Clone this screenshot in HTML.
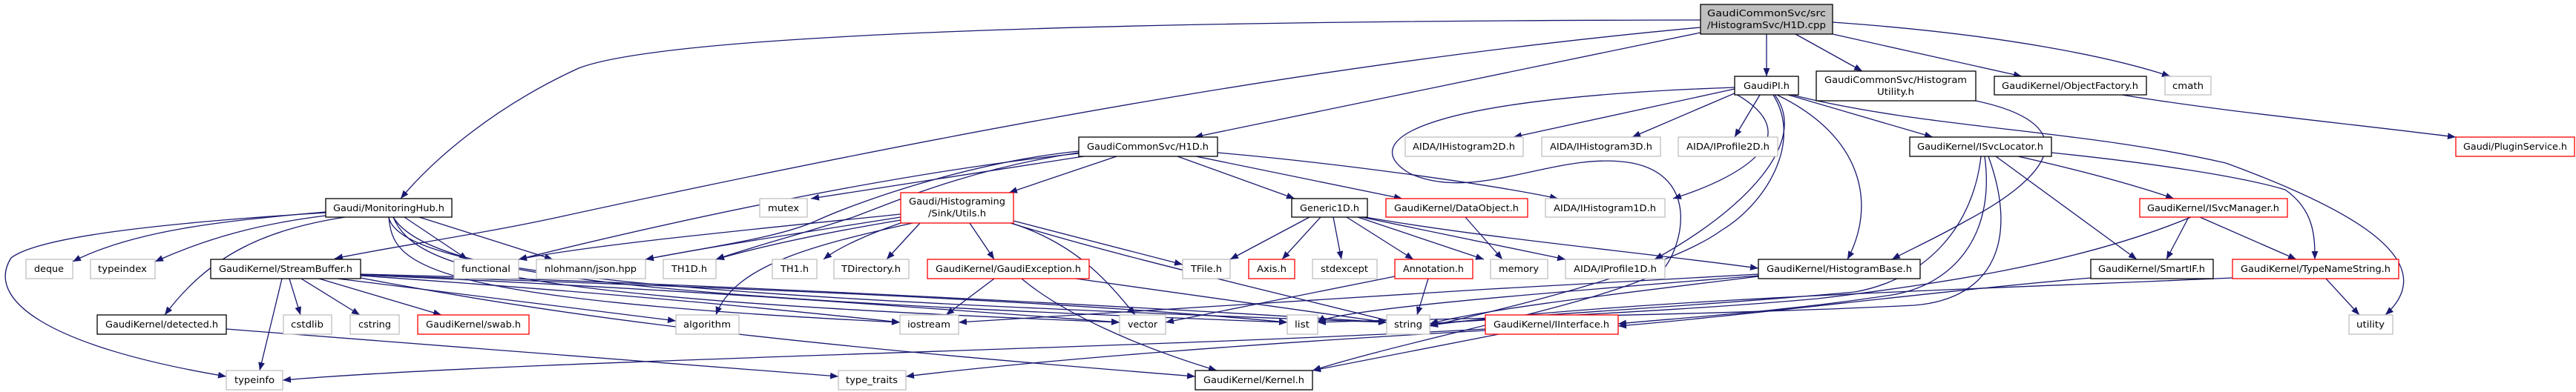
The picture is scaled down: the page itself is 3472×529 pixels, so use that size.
<!DOCTYPE html>
<html><head><meta charset="utf-8"><style>
html,body{margin:0;padding:0;background:#fff;overflow:hidden;}
svg{display:block;}
text{font-family:"DejaVu Sans","Liberation Sans",sans-serif;font-size:12px;fill:#000;}
.e{fill:none;stroke:#191970;stroke-width:1.3;}
.b{fill:#fff;stroke:#000;stroke-width:1.3;}
.r{fill:#fff;stroke:#ff0000;stroke-width:1.3;}
.g{fill:#fff;stroke:#bfbfbf;stroke-width:1.3;}
</style></head><body>
<svg width="3472" height="529" viewBox="0 0 3472 529" xmlns="http://www.w3.org/2000/svg">
<defs><marker id="m" viewBox="0 0 10 10" refX="10" refY="5" markerWidth="11" markerHeight="11" orient="auto" markerUnits="userSpaceOnUse"><path d="M0,1 L10,5 L0,9 z" fill="#191970"/></marker></defs>
<g marker-end="url(#m)">
<path class="e" d="M2292,27 C1500,28 900,46 780,92 C660,147 580,220 540,268"/>
<path class="e" d="M2292,37 C1800,82 1300,174 762,291 C650,316 520,334 451,349"/>
<path class="e" d="M2292,44 L1610,185"/>
<path class="e" d="M2381,46 L2381,103"/>
<path class="e" d="M2420,46 L2510,96"/>
<path class="e" d="M2470,46 L2725,103"/>
<path class="e" d="M2470,30 C2700,46 2850,78 2925,103"/>
<path class="e" d="M2338,120 L2040,185"/>
<path class="e" d="M2340,125 L2200,185"/>
<path class="e" d="M2372,128 L2338,185"/>
<path class="e" d="M2338,118 C1900,133 1830,192 1900,234 C1990,275 2100,202 2200,220 C2290,238 2270,330 2240,366 C2150,412 1900,458 1769,500"/>
<path class="e" d="M2338,126 C2440,183 2350,238 2255,268"/>
<path class="e" d="M2392,128 C2440,192 2350,284 2230,350"/>
<path class="e" d="M2395,128 C2510,183 2530,275 2490,350"/>
<path class="e" d="M2410,128 L2605,185"/>
<path class="e" d="M2415,128 C2600,174 2800,174 3000,220 C3150,275 3300,348 3215,425"/>
<path class="e" d="M2390,128 C2430,192 2380,275 2320,311 C2250,362 2050,412 1927,440"/>
<path class="e" d="M1480,208 L1093,268"/>
<path class="e" d="M1505,211 L1360,260"/>
<path class="e" d="M1587,211 L1745,268"/>
<path class="e" d="M1612,211 L1890,268"/>
<path class="e" d="M1641,206 C1800,220 2000,247 2100,268"/>
<path class="e" d="M1454,204 C1300,220 1150,275 1100,298 C1050,321 950,334 870,350"/>
<path class="e" d="M1454,206 C1300,229 1200,275 1150,293 C1080,316 1010,334 965,350"/>
<path class="e" d="M1454,207 C1200,234 900,300 699,350"/>
<path class="e" d="M1214,289 C1000,311 800,330 699,350"/>
<path class="e" d="M1214,293 C1100,311 950,334 870,350"/>
<path class="e" d="M1214,297 C1100,316 1020,334 965,350"/>
<path class="e" d="M1214,301 C1170,316 1130,334 1110,350"/>
<path class="e" d="M1240,301 L1195,350"/>
<path class="e" d="M1307,301 L1340,350"/>
<path class="e" d="M1366,298 L1594,357"/>
<path class="e" d="M1366,302 C1450,330 1490,376 1530,425"/>
<path class="e" d="M1362,301 C1500,344 1700,390 1880,435"/>
<path class="e" d="M1230,301 C1100,330 990,357 965,425"/>
<path class="e" d="M1765,293 L1658,350"/>
<path class="e" d="M1780,293 L1728,350"/>
<path class="e" d="M1797,293 L1808,350"/>
<path class="e" d="M1815,293 L1905,350"/>
<path class="e" d="M1830,293 L2000,350"/>
<path class="e" d="M1835,293 L2110,350"/>
<path class="e" d="M1840,293 C2000,321 2200,339 2370,362"/>
<path class="e" d="M1975,293 L2025,350"/>
<path class="e" d="M1340,376 L1275,425"/>
<path class="e" d="M1377,376 C1430,421 1530,467 1640,500"/>
<path class="e" d="M1450,376 L1869,435"/>
<path class="e" d="M1925,376 L1910,425"/>
<path class="e" d="M1880,373 L1571,435"/>
<path class="e" d="M380,376 L350,500"/>
<path class="e" d="M390,376 L405,425"/>
<path class="e" d="M406,376 L485,425"/>
<path class="e" d="M430,376 L595,425"/>
<path class="e" d="M455,376 L911,433"/>
<path class="e" d="M486,372 C800,394 1000,412 1213,435"/>
<path class="e" d="M486,371 C900,389 1200,412 1509,435"/>
<path class="e" d="M486,371 C900,385 1400,403 1735,435"/>
<path class="e" d="M486,370 C900,380 1500,412 1869,435"/>
<path class="e" d="M486,375 C800,435 1100,467 1611,508"/>
<path class="e" d="M439,286 C300,298 180,311 98,353"/>
<path class="e" d="M439,291 C350,302 280,321 209,353"/>
<path class="e" d="M439,287 C200,302 50,321 15,348 C-20,403 60,467 305,508"/>
<path class="e" d="M465,293 C350,311 280,348 222,425"/>
<path class="e" d="M545,293 L630,350"/>
<path class="e" d="M565,293 L745,350"/>
<path class="e" d="M524,293 C530,357 560,403 1213,435"/>
<path class="e" d="M530,293 C560,366 700,403 1509,435"/>
<path class="e" d="M530,293 C580,376 900,403 1735,435"/>
<path class="e" d="M524,293 C540,376 1000,403 1869,435"/>
<path class="e" d="M305,444 L1130,508"/>
<path class="e" d="M2002,444 C1500,472 700,486 381,513"/>
<path class="e" d="M2002,446 C1700,463 1400,486 1221,508"/>
<path class="e" d="M2020,451 L1769,500"/>
<path class="e" d="M2370,370 C2000,389 1500,421 1292,435"/>
<path class="e" d="M2370,372 C2100,394 1800,417 1776,435"/>
<path class="e" d="M2370,373 C2200,394 2000,417 1927,437"/>
<path class="e" d="M2670,211 C2660,302 2600,376 2500,394 C2300,412 2050,426 1927,437"/>
<path class="e" d="M2675,211 C2690,321 2630,385 2550,398 C2400,421 2250,430 2181,437"/>
<path class="e" d="M2680,211 C2720,321 2690,403 2580,412 C2300,426 1900,430 1776,435"/>
<path class="e" d="M2690,211 L2880,350"/>
<path class="e" d="M2720,211 C2800,229 2870,247 2930,268"/>
<path class="e" d="M2765,206 C2900,220 3020,238 3080,256 C3120,284 3120,321 3120,350"/>
<path class="e" d="M2950,293 L2920,350"/>
<path class="e" d="M2965,293 L3095,350"/>
<path class="e" d="M2953,293 C2800,357 2600,385 2450,403 C2250,421 2000,430 1927,437"/>
<path class="e" d="M2818,375 C2600,394 2350,426 2181,440"/>
<path class="e" d="M3009,375 C2700,389 2200,403 1927,439"/>
<path class="e" d="M3135,376 L3180,425"/>
<path class="e" d="M2663,136 C2800,165 2780,229 2650,298 C2610,321 2570,339 2550,350"/>
<path class="e" d="M2860,128 C3000,151 3150,165 3310,185"/>
</g>
<rect x="2292" y="6" width="178" height="40" fill="#bfbfbf" stroke="#000" stroke-width="1.3"/>
<text x="2381" y="22" text-anchor="middle" textLength="160" lengthAdjust="spacingAndGlyphs">GaudiCommonSvc/src</text>
<text x="2381" y="38" text-anchor="middle" textLength="160" lengthAdjust="spacingAndGlyphs">/HistogramSvc/H1D.cpp</text>

<rect class="b" x="439" y="268" width="170" height="25"/><text x="524" y="285" text-anchor="middle" textLength="150" lengthAdjust="spacingAndGlyphs">Gaudi/MonitoringHub.h</text>
<rect class="g" x="1024" y="268" width="64" height="25"/><text x="1056" y="285" text-anchor="middle" textLength="42" lengthAdjust="spacingAndGlyphs">mutex</text>
<rect class="g" x="35" y="350" width="63" height="26"/><text x="66" y="367" text-anchor="middle" textLength="40" lengthAdjust="spacingAndGlyphs">deque</text>
<rect class="g" x="122" y="350" width="87" height="26"/><text x="165" y="367" text-anchor="middle" textLength="66" lengthAdjust="spacingAndGlyphs">typeindex</text>
<rect class="b" x="284" y="350" width="202" height="26"/><text x="385" y="367" text-anchor="middle" textLength="180" lengthAdjust="spacingAndGlyphs">GaudiKernel/StreamBuffer.h</text>
<rect class="g" x="612" y="350" width="87" height="26"/><text x="655" y="367" text-anchor="middle" textLength="66" lengthAdjust="spacingAndGlyphs">functional</text>
<rect class="g" x="723" y="350" width="147" height="26"/><text x="796" y="367" text-anchor="middle" textLength="124" lengthAdjust="spacingAndGlyphs">nlohmann/json.hpp</text>
<rect class="g" x="894" y="350" width="71" height="26"/><text x="929" y="367" text-anchor="middle" textLength="48" lengthAdjust="spacingAndGlyphs">TH1D.h</text>
<rect class="g" x="1041" y="350" width="60" height="26"/><text x="1071" y="367" text-anchor="middle" textLength="38" lengthAdjust="spacingAndGlyphs">TH1.h</text>
<rect class="g" x="1124" y="350" width="101" height="26"/><text x="1174" y="367" text-anchor="middle" textLength="80" lengthAdjust="spacingAndGlyphs">TDirectory.h</text>
<rect class="b" x="131" y="425" width="174" height="26"/><text x="218" y="442" text-anchor="middle" textLength="152" lengthAdjust="spacingAndGlyphs">GaudiKernel/detected.h</text>
<rect class="g" x="382" y="425" width="65" height="26"/><text x="414" y="442" text-anchor="middle" textLength="44" lengthAdjust="spacingAndGlyphs">cstdlib</text>
<rect class="g" x="472" y="425" width="66" height="26"/><text x="505" y="442" text-anchor="middle" textLength="44" lengthAdjust="spacingAndGlyphs">cstring</text>
<rect class="r" x="563" y="425" width="150" height="26"/><text x="638" y="442" text-anchor="middle" textLength="128" lengthAdjust="spacingAndGlyphs">GaudiKernel/swab.h</text>
<rect class="g" x="911" y="425" width="85" height="26"/><text x="953" y="442" text-anchor="middle" textLength="64" lengthAdjust="spacingAndGlyphs">algorithm</text>
<rect class="g" x="305" y="500" width="76" height="26"/><text x="343" y="517" text-anchor="middle" textLength="54" lengthAdjust="spacingAndGlyphs">typeinfo</text>
<rect class="g" x="1130" y="500" width="91" height="26"/><text x="1175" y="517" text-anchor="middle" textLength="70" lengthAdjust="spacingAndGlyphs">type_traits</text>

<rect class="b" x="1454" y="185" width="187" height="26"/><text x="1547" y="202" text-anchor="middle" textLength="164" lengthAdjust="spacingAndGlyphs">GaudiCommonSvc/H1D.h</text>
<rect class="g" x="1894" y="185" width="159" height="26"/><text x="1973" y="202" text-anchor="middle" textLength="138" lengthAdjust="spacingAndGlyphs">AIDA/IHistogram2D.h</text>
<rect class="g" x="2078" y="185" width="160" height="26"/><text x="2158" y="202" text-anchor="middle" textLength="138" lengthAdjust="spacingAndGlyphs">AIDA/IHistogram3D.h</text>
<rect class="g" x="2262" y="185" width="134" height="26"/><text x="2329" y="202" text-anchor="middle" textLength="112" lengthAdjust="spacingAndGlyphs">AIDA/IProfile2D.h</text>
<rect class="r" x="1214" y="260" width="152" height="41"/>
<text x="1290" y="276" text-anchor="middle" textLength="130" lengthAdjust="spacingAndGlyphs">Gaudi/Histograming</text>
<text x="1290" y="292" text-anchor="middle" textLength="78" lengthAdjust="spacingAndGlyphs">/Sink/Utils.h</text>
<rect class="b" x="1741" y="268" width="102" height="25"/><text x="1792" y="285" text-anchor="middle" textLength="80" lengthAdjust="spacingAndGlyphs">Generic1D.h</text>
<rect class="r" x="1868" y="268" width="191" height="25"/><text x="1963" y="285" text-anchor="middle" textLength="168" lengthAdjust="spacingAndGlyphs">GaudiKernel/DataObject.h</text>
<rect class="g" x="2083" y="268" width="161" height="25"/><text x="2163" y="285" text-anchor="middle" textLength="138" lengthAdjust="spacingAndGlyphs">AIDA/IHistogram1D.h</text>
<rect class="r" x="1250" y="350" width="218" height="26"/><text x="1359" y="367" text-anchor="middle" textLength="196" lengthAdjust="spacingAndGlyphs">GaudiKernel/GaudiException.h</text>
<rect class="g" x="1594" y="350" width="64" height="26"/><text x="1626" y="367" text-anchor="middle" textLength="42" lengthAdjust="spacingAndGlyphs">TFile.h</text>
<rect class="r" x="1683" y="350" width="62" height="26"/><text x="1714" y="367" text-anchor="middle" textLength="40" lengthAdjust="spacingAndGlyphs">Axis.h</text>
<rect class="g" x="1769" y="350" width="87" height="26"/><text x="1812" y="367" text-anchor="middle" textLength="64" lengthAdjust="spacingAndGlyphs">stdexcept</text>
<rect class="r" x="1880" y="350" width="105" height="26"/><text x="1932" y="367" text-anchor="middle" textLength="82" lengthAdjust="spacingAndGlyphs">Annotation.h</text>
<rect class="g" x="2009" y="350" width="77" height="26"/><text x="2047" y="367" text-anchor="middle" textLength="54" lengthAdjust="spacingAndGlyphs">memory</text>
<rect class="g" x="2110" y="350" width="134" height="26"/><text x="2177" y="367" text-anchor="middle" textLength="112" lengthAdjust="spacingAndGlyphs">AIDA/IProfile1D.h</text>
<rect class="g" x="1213" y="425" width="79" height="26"/><text x="1252" y="442" text-anchor="middle" textLength="58" lengthAdjust="spacingAndGlyphs">iostream</text>
<rect class="g" x="1509" y="425" width="62" height="26"/><text x="1540" y="442" text-anchor="middle" textLength="40" lengthAdjust="spacingAndGlyphs">vector</text>
<rect class="g" x="1735" y="425" width="41" height="26"/><text x="1755" y="442" text-anchor="middle" textLength="20" lengthAdjust="spacingAndGlyphs">list</text>
<rect class="g" x="1869" y="425" width="58" height="26"/><text x="1898" y="442" text-anchor="middle" textLength="38" lengthAdjust="spacingAndGlyphs">string</text>
<rect class="r" x="2002" y="425" width="179" height="26"/><text x="2091" y="442" text-anchor="middle" textLength="156" lengthAdjust="spacingAndGlyphs">GaudiKernel/IInterface.h</text>
<rect class="b" x="1611" y="500" width="158" height="26"/><text x="1690" y="517" text-anchor="middle" textLength="136" lengthAdjust="spacingAndGlyphs">GaudiKernel/Kernel.h</text>

<rect class="b" x="2338" y="103" width="86" height="25"/><text x="2381" y="120" text-anchor="middle" textLength="62" lengthAdjust="spacingAndGlyphs">GaudiPI.h</text>
<rect class="b" x="2448" y="96" width="215" height="40"/>
<text x="2555" y="112" text-anchor="middle" textLength="192" lengthAdjust="spacingAndGlyphs">GaudiCommonSvc/Histogram</text>
<text x="2555" y="128" text-anchor="middle" textLength="50" lengthAdjust="spacingAndGlyphs">Utility.h</text>
<rect class="b" x="2688" y="103" width="205" height="25"/><text x="2790" y="120" text-anchor="middle" textLength="184" lengthAdjust="spacingAndGlyphs">GaudiKernel/ObjectFactory.h</text>
<rect class="g" x="2918" y="103" width="62" height="25"/><text x="2949" y="120" text-anchor="middle" textLength="42" lengthAdjust="spacingAndGlyphs">cmath</text>
<rect class="b" x="2574" y="185" width="191" height="26"/><text x="2669" y="202" text-anchor="middle" textLength="170" lengthAdjust="spacingAndGlyphs">GaudiKernel/ISvcLocator.h</text>
<rect class="r" x="3310" y="185" width="160" height="26"/><text x="3390" y="202" text-anchor="middle" textLength="140" lengthAdjust="spacingAndGlyphs">Gaudi/PluginService.h</text>
<rect class="r" x="2884" y="268" width="199" height="25"/><text x="2983" y="285" text-anchor="middle" textLength="178" lengthAdjust="spacingAndGlyphs">GaudiKernel/ISvcManager.h</text>
<rect class="b" x="2370" y="350" width="218" height="26"/><text x="2479" y="367" text-anchor="middle" textLength="196" lengthAdjust="spacingAndGlyphs">GaudiKernel/HistogramBase.h</text>
<rect class="b" x="2818" y="350" width="165" height="26"/><text x="2900" y="367" text-anchor="middle" textLength="144" lengthAdjust="spacingAndGlyphs">GaudiKernel/SmartIF.h</text>
<rect class="r" x="3009" y="350" width="224" height="26"/><text x="3121" y="367" text-anchor="middle" textLength="202" lengthAdjust="spacingAndGlyphs">GaudiKernel/TypeNameString.h</text>
<rect class="g" x="3166" y="425" width="59" height="26"/><text x="3195" y="442" text-anchor="middle" textLength="38" lengthAdjust="spacingAndGlyphs">utility</text>
</svg>
</body></html>
